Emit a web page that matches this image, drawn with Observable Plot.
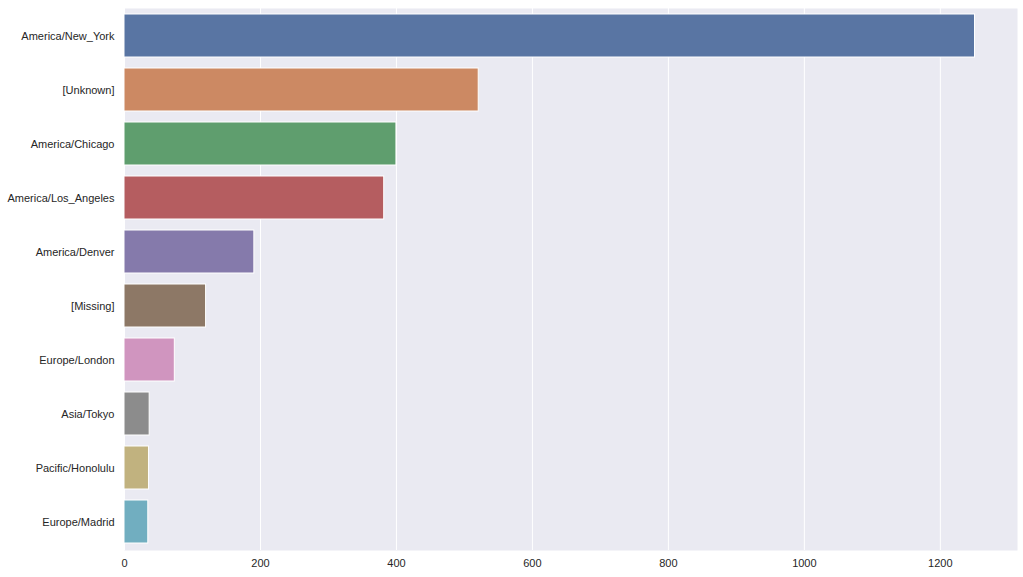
<!DOCTYPE html>
<html><head><meta charset="utf-8">
<script src="https://cdn.jsdelivr.net/npm/d3@7"></script>
<script src="https://cdn.jsdelivr.net/npm/@observablehq/plot@0.6"></script>
<style>body{margin:0;background:#fff}svg{display:block}</style>
</head><body><div id="chart"></div>
<script>
const zones = ["America/New_York","[Unknown]","America/Chicago","America/Los_Angeles","America/Denver","[Missing]","Europe/London","Asia/Tokyo","Pacific/Honolulu","Europe/Madrid"];
const counts = [1251,521,400,382,191,120,74,37,36,35];
const colors = ["#5975A3","#CC8963","#5F9E6E","#B55D60","#857AAB","#8D7866","#D095BF","#8C8C8C","#C1B27F","#71AEC0"];
const xTicks = [0,200,400,600,800,1000,1200];
const data = zones.map((z,i)=>({zone:z,count:counts[i]}));
const chart = Plot.plot({
  width:1023, height:577,
  marginLeft:124, marginRight:6, marginTop:8, marginBottom:27,
  style:{fontFamily:"'Liberation Sans', Arial, sans-serif", fontSize:"11px", color:"#262626", background:"#fff"},
  x:{domain:[0,1313.5], ticks:xTicks, tickFormat:d=>String(d), tickSize:0, tickPadding:9, label:null},
  y:{domain:zones, paddingInner:0.2, paddingOuter:0.1, tickSize:0, tickPadding:10, label:null},
  color:{domain:zones, range:colors},
  marks:[
    Plot.frame({fill:"#EAEAF2", stroke:null}),
    Plot.gridX(xTicks,{stroke:"#fff", strokeOpacity:1, strokeWidth:1}),
    Plot.barX(data,{x:"count", y:"zone", fill:"zone", stroke:"#fff", strokeWidth:1}),
    Plot.axisX({ticks:xTicks, tickFormat:d=>String(d), tickSize:0, tickPadding:9, label:null}),
    Plot.axisY({tickSize:0, tickPadding:10, label:null})
  ]
});
document.getElementById("chart").append(chart);
</script></body></html>
